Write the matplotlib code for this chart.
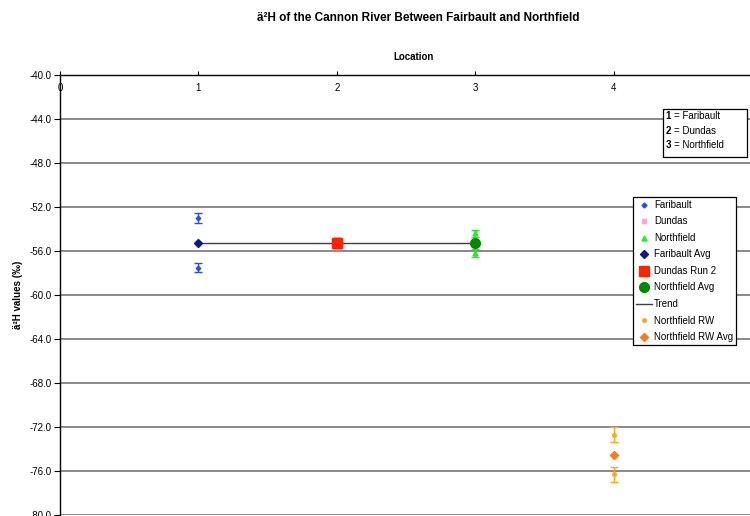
import matplotlib
matplotlib.use('Agg')
import matplotlib.pyplot as plt
from matplotlib.lines import Line2D
from matplotlib.patches import Rectangle

plt.rcParams['font.family'] = ['Liberation Sans', 'DejaVu Sans']

# ---- data ----
x_ticks = [0, 1, 2, 3, 4, 5]
y_ticks = [-40, -44, -48, -52, -56, -60, -64, -68, -72, -76, -80]

faribault_x = [1, 1]
faribault_y = [-53.0, -57.5]
faribault_err = [0.45, 0.45]

dundas_x = [2, 2]
dundas_y = [-55.1, -55.5]
dundas_err = [0.35, 0.35]

northfield_x = [3, 3]
northfield_y = [-54.4, -56.2]
northfield_err = [0.35, 0.35]

faribault_avg_x = [1]
faribault_avg_y = [-55.3]
dundas_run2_x = [2]
dundas_run2_y = [-55.3]
northfield_avg_x = [3]
northfield_avg_y = [-55.3]

trend_x = [1, 2, 3]
trend_y = [-55.3, -55.3, -55.3]

nfrw_x = [4, 4]
nfrw_y = [-72.7, -76.3]
nfrw_err = [0.7, 0.7]
nfrw_avg_x = [4]
nfrw_avg_y = [-74.5]

site_numbers = ['1', '2', '3']
site_names = ['Faribault', 'Dundas', 'Northfield']

# ---- figure ----
W, H = 750, 516
fig = plt.figure(figsize=(W / 100, H / 100), dpi=100)
ax = fig.add_axes([60 / W, 1 - 515 / H, 692 / W, 440 / H])

ax.set_xlim(0, 5)
ax.set_ylim(-80, -40)
ax.set_yticks(y_ticks)
ax.set_yticklabels([f'{v:.1f}' for v in y_ticks], fontsize=7)
ax.set_xticks(x_ticks)
ax.tick_params(axis='x', top=True, bottom=False, labeltop=False, labelbottom=False,
               direction='out', length=3, width=0.8)
ax.tick_params(axis='y', direction='out', length=4, width=0.8, pad=2)
ax.yaxis.grid(True, color='#6a6a6a', lw=1.1)
ax.set_axisbelow(True)
for s in ['right', 'bottom']:
    ax.spines[s].set_visible(False)
for s in ['top', 'left']:
    ax.spines[s].set_color('black')
    ax.spines[s].set_linewidth(1)

# x tick labels drawn just below top axis
for t in x_ticks:
    ax.text(t, 1 - 13 / 440, str(t), transform=ax.get_xaxis_transform(),
            ha='center', va='center', fontsize=7, clip_on=False)

# series
ax.errorbar(faribault_x, faribault_y, yerr=faribault_err, fmt='D', ms=2.3,
            color='#2a4bff', ecolor='#2a4bff', elinewidth=1, capsize=3, capthick=1)
ax.errorbar(dundas_x, dundas_y, yerr=dundas_err, fmt='s', ms=3,
            color='#ffaacc', ecolor='#ffaacc', elinewidth=1, capsize=3, capthick=1)
ax.errorbar(northfield_x, northfield_y, yerr=northfield_err, fmt='^', ms=3.5,
            color='#22ee22', ecolor='#22ee22', elinewidth=1, capsize=3, capthick=1)
ax.plot(trend_x, trend_y, color='#404040', lw=1, zorder=2)
ax.plot(faribault_avg_x, faribault_avg_y, 'D', ms=4.5, color='#0a1a8a', zorder=3)
ax.plot(dundas_run2_x, dundas_run2_y, 's', ms=6.5, color='#ff2200', zorder=3)
ax.plot(northfield_avg_x, northfield_avg_y, 'o', ms=7, color='#008a00', zorder=3)
ax.errorbar(nfrw_x, nfrw_y, yerr=nfrw_err, fmt='o', ms=2.5,
            color='#ffa520', ecolor='#ffa520', elinewidth=1, capsize=3, capthick=1)
ax.plot(nfrw_avg_x, nfrw_avg_y, 'D', ms=4.5, color='#ff7a10', zorder=3)

# titles
fig.text(418 / W, 1 - 18 / H, 'ä²H of the Cannon River Between Fairbault and Northfield',
         ha='center', va='center', fontsize=8.5, fontweight='bold')
fig.text(414 / W, 1 - 57 / H, 'Location', ha='center', va='center',
         fontsize=7, fontweight='bold')
fig.text(18 / W, 1 - 295 / H, 'ä²H values (‰)', ha='center', va='center',
         rotation=90, fontsize=7, fontweight='bold')

# key box (site numbers)
fig.patches.append(Rectangle((663 / W, 1 - 157 / H), 84 / W, 48 / H,
                             transform=fig.transFigure, facecolor='white',
                             edgecolor='black', lw=0.9, zorder=5))
for i, (n, name) in enumerate(zip(site_numbers, site_names)):
    yy = 1 - (116 + i * 14.5) / H
    fig.text(665.5 / W, yy, n, ha='left', va='center', fontsize=7,
             fontweight='bold', zorder=6)
    fig.text(674 / W, yy, '= ' + name, ha='left', va='center', fontsize=7, zorder=6)

# series legend
handles = [
    Line2D([], [], ls='none', marker='D', ms=2.5, color='#2a4bff'),
    Line2D([], [], ls='none', marker='s', ms=3.5, color='#ffaacc'),
    Line2D([], [], ls='none', marker='^', ms=3.5, color='#22ee22'),
    Line2D([], [], ls='none', marker='D', ms=4.5, color='#0a1a8a'),
    Line2D([], [], ls='none', marker='s', ms=6.5, color='#ff2200'),
    Line2D([], [], ls='none', marker='o', ms=7, color='#008a00'),
    Line2D([], [], color='#404040', lw=1),
    Line2D([], [], ls='none', marker='o', ms=2.5, color='#ffa520'),
    Line2D([], [], ls='none', marker='D', ms=4.5, color='#ff7a10'),
]
labels = ['Faribault', 'Dundas', 'Northfield', 'Faribault Avg', 'Dundas Run 2',
          'Northfield Avg', 'Trend', 'Northfield RW', 'Northfield RW Avg']
leg = fig.legend(handles, labels, loc='upper left',
                 bbox_to_anchor=(633 / W, 1 - 197 / H), fontsize=7,
                 frameon=True, fancybox=False, edgecolor='black', framealpha=1,
                 borderpad=0.3, labelspacing=0.67, handlelength=1.7,
                 handletextpad=0.15, borderaxespad=0)
leg.get_frame().set_linewidth(0.9)

fig.savefig('out.png', dpi=100)
